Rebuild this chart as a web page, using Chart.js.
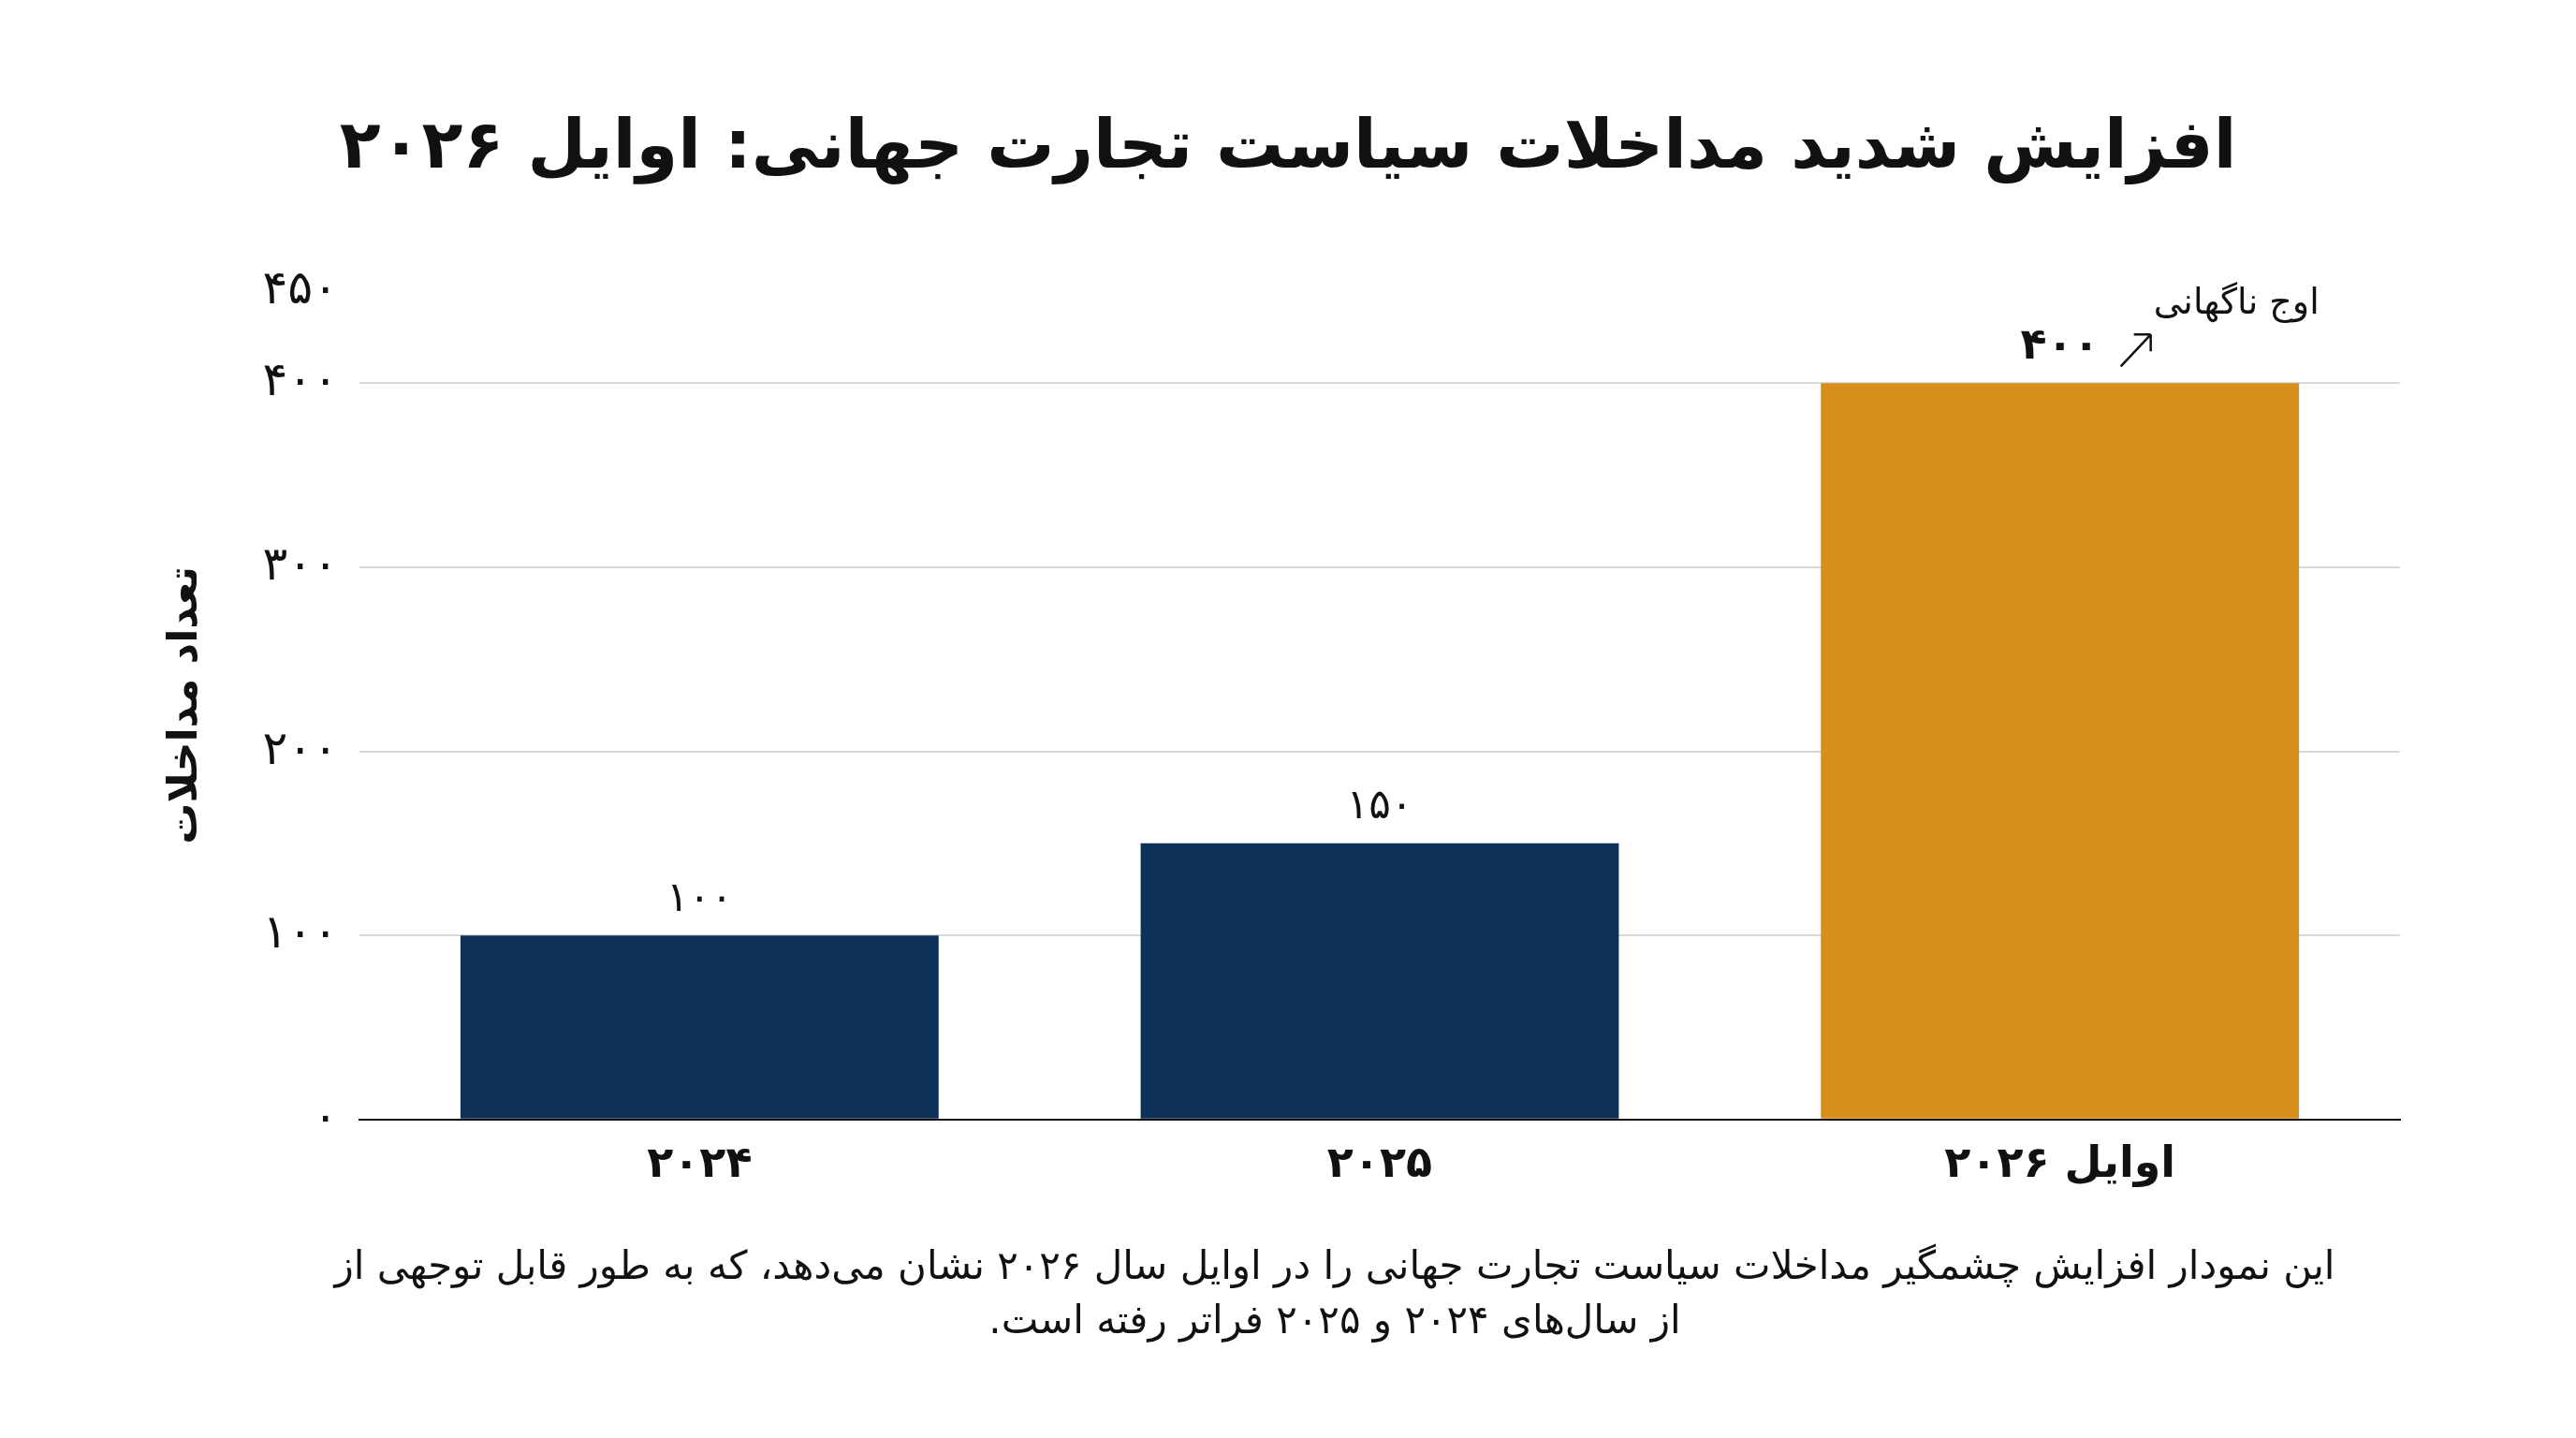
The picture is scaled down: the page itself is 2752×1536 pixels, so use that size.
<!DOCTYPE html>
<html lang="fa">
<head>
<meta charset="utf-8">
<script src="https://cdn.jsdelivr.net/npm/chart.js@4.4.1/dist/chart.umd.min.js"></script>
<style>
  html, body { margin: 0; padding: 0; background: #fff; }
  #c { display: block; }
</style>
</head>
<body>
<canvas id="c" width="2752" height="1536" dir="rtl"></canvas>
<script>
var categories = ['۲۰۲۴', '۲۰۲۵', 'اوایل ۲۰۲۶'];
var interventions = [100, 150, 400];
var barColors = ['#0e3158', '#0e3158', '#d88e1b'];
var yTicks = [0, 100, 200, 300, 400, 450];

var titleText = 'افزایش شدید مداخلات سیاست تجارت جهانی: اوایل ۲۰۲۶';
var yTitle = 'تعداد مداخلات';
var peakNote = 'اوج ناگهانی';
var captionLines = [
    'این نمودار افزایش چشمگیر مداخلات سیاست تجارت جهانی را در اوایل سال ۲۰۲۶ نشان می‌دهد، که به طور قابل توجهی از',
    'از سال‌های ۲۰۲۴ و ۲۰۲۵ فراتر رفته است.'
];

var FONT = '"DejaVu Sans", sans-serif';

function toFa(n) {
    return String(n).replace(/[0-9]/g, function(d){ return '۰۱۲۳۴۵۶۷۸۹'[d]; });
}

var labelsPlugin = {
    id: 'labelsPlugin',
    afterDatasetsDraw: function(chart) {
        var ctx = chart.ctx;
        var meta = chart.getDatasetMeta(0);
        ctx.save();
        ctx.fillStyle = '#111';
        ctx.textAlign = 'center';
        ctx.textBaseline = 'middle';
        meta.data.forEach(function(bar, i) {
            var last = i === meta.data.length - 1;
            ctx.font = (last ? 'bold 46px ' : '44px ') + FONT;
            ctx.fillText(toFa(interventions[i]), bar.x, bar.y - 38);
        });

        // peak note + arrow next to the last bar label
        var top = meta.data[meta.data.length - 1];
        var ax = top.x + 65, ay = top.y - 18;
        ctx.strokeStyle = '#111';
        ctx.lineWidth = 2.5;
        ctx.beginPath();
        ctx.moveTo(ax, ay);
        ctx.lineTo(ax + 32, ay - 34);
        ctx.moveTo(ax + 32, ay - 34);
        ctx.lineTo(ax + 14, ay - 34);
        ctx.moveTo(ax + 32, ay - 34);
        ctx.lineTo(ax + 32, ay - 16);
        ctx.stroke();
        ctx.font = '38px ' + FONT;
        ctx.textAlign = 'left';
        ctx.fillText(peakNote, top.x + 100, top.y - 84);
        ctx.restore();
    },
    afterDraw: function(chart) {
        var ctx = chart.ctx;
        ctx.save();
        ctx.fillStyle = '#111';
        ctx.textAlign = 'center';
        ctx.textBaseline = 'middle';
        ctx.font = 'bold 72px ' + FONT;
        ctx.fillText(titleText, 1376, 160);
        ctx.font = '42px ' + FONT;
        ctx.fillText(captionLines[0], 1426, 1355);
        ctx.fillText(captionLines[1], 1426, 1413);
        ctx.restore();
    }
};

var ctx = document.getElementById('c').getContext('2d');
var chart = new Chart(ctx, {
    type: 'bar',
    data: {
        labels: categories,
        datasets: [{
            data: interventions,
            backgroundColor: barColors,
            borderWidth: 0,
            categoryPercentage: 0.703,
            barPercentage: 1
        }]
    },
    options: {
        responsive: false,
        devicePixelRatio: 1,
        animation: false,
        layout: { padding: { top: 311, right: 188, bottom: 241, left: 0 } },
        plugins: {
            legend: { display: false },
            tooltip: { enabled: false },
            title: { display: false }
        },
        scales: {
            x: {
                grid: { display: false, drawTicks: false },
                border: { display: true, color: '#111', width: 2 },
                ticks: {
                    color: '#111',
                    padding: 22,
                    font: { family: FONT, size: 46, weight: 'bold' }
                }
            },
            y: {
                min: 0,
                max: 450,
                afterBuildTicks: function(scale) {
                    scale.ticks = yTicks.map(function(v){ return { value: v }; });
                },
                afterFit: function(scale) { scale.width = 384; },
                grid: {
                    drawTicks: false,
                    lineWidth: 2,
                    color: function(c) {
                        var v = c.tick && c.tick.value;
                        return (v === 0 || v === 450) ? 'rgba(0,0,0,0)' : '#d9d9d9';
                    }
                },
                border: { display: false },
                ticks: {
                    color: '#111',
                    padding: 23,
                    font: { family: FONT, size: 50 },
                    callback: function(v) { return toFa(v); }
                },
                title: {
                    display: true,
                    text: yTitle,
                    color: '#111',
                    font: { family: FONT, size: 44, weight: 'bold' },
                    padding: { top: 172, bottom: 0 }
                }
            }
        }
    },
    plugins: [labelsPlugin]
});
</script>
</body>
</html>
